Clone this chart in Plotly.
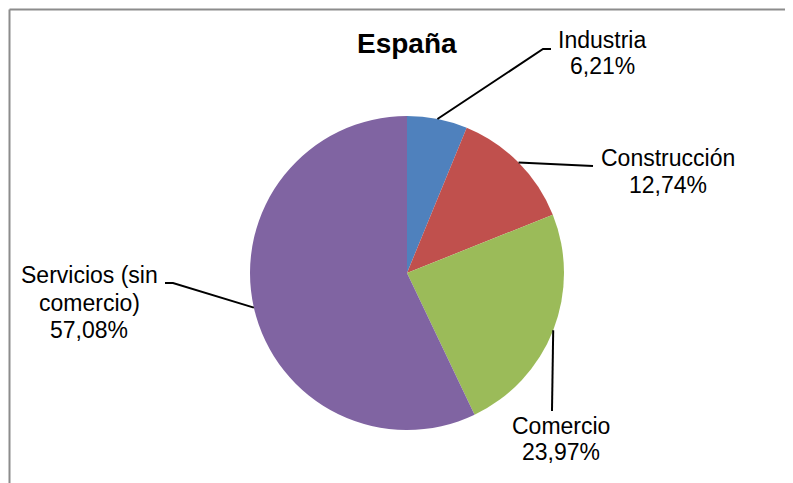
import math
import plotly.graph_objects as go

# ---- data ----
categories = ["Industria", "Construcción", "Comercio", "Servicios (sin<br>comercio)"]
values = [6.21, 12.74, 23.97, 57.08]
value_labels = ["6,21%", "12,74%", "23,97%", "57,08%"]
colors = ["#4F81BD", "#C0504D", "#9BBB59", "#8064A2"]
title_text = "España"

# ---- layout geometry (pixels in the 793x483 window) ----
OFF = 8                      # page body margin
W, H = 785, 475              # figure size
CX, CY, R = 407, 273, 157
# label line centers (x, [y per line]) and leader-line elbows
label_pos = [(602, [40, 66]), (668, [158, 185]), (561, [426, 452]), (89, [275, 303, 330])]
elbows = [[(543, 49), (551, 49)],
          [(593, 166)],
          [(552, 411)],
          [(173, 283), (165, 283)]]

def px(x):
    return (x - OFF) / W

def py(y):
    return 1 - (y - OFF) / H

FONT = "Liberation Sans, Arial, sans-serif"

fig = go.Figure()
fig.add_trace(go.Pie(
    labels=[c.replace("<br>", " ") for c in categories],
    values=values,
    sort=False,
    direction="clockwise",
    rotation=0,
    textinfo="none",
    marker=dict(colors=colors, line=dict(width=0)),
    domain=dict(x=[px(CX - R), px(CX + R)], y=[py(CY + R), py(CY - R)]),
    showlegend=False,
    hoverinfo="label+percent",
))

total = sum(values)
shapes = []
annotations = []
cum = 0.0
for i, v in enumerate(values):
    mid = (cum + v / 2) / total
    cum += v
    th = 2 * math.pi * mid
    ex = CX + R * math.sin(th)
    ey = CY - R * math.cos(th)
    pts = [(ex, ey)] + elbows[i]
    path = "M " + " L ".join(f"{px(x):.5f},{py(y):.5f}" for x, y in pts)
    shapes.append(dict(type="path", xref="paper", yref="paper", path=path,
                       line=dict(color="black", width=2)))
    lx, lys = label_pos[i]
    lines = categories[i].split("<br>") + [value_labels[i]]
    for t, ly in zip(lines, lys):
        annotations.append(dict(
            x=px(lx), y=py(ly), xref="paper", yref="paper", text=t,
            showarrow=False, xanchor="center", yanchor="middle",
            font=dict(family=FONT, size=23, color="black"),
        ))

annotations.append(dict(
    x=px(407), y=py(43), xref="paper", yref="paper", text=f"<b>{title_text}</b>",
    showarrow=False, xanchor="center", yanchor="middle",
    font=dict(family=FONT, size=28, color="black"),
))

# frame (left and top border)
FT = 9.5
shapes.append(dict(type="line", xref="paper", yref="paper",
                   x0=px(9.5), x1=px(9.5), y0=0, y1=py(FT),
                   line=dict(color="#8c8c8c", width=2)))
shapes.append(dict(type="line", xref="paper", yref="paper",
                   x0=px(9.5), x1=1, y0=py(FT), y1=py(FT),
                   line=dict(color="#8c8c8c", width=2)))

fig.update_layout(
    width=W, height=H,
    margin=dict(l=0, r=0, t=0, b=0),
    paper_bgcolor="white", plot_bgcolor="white",
    shapes=shapes, annotations=annotations,
)

fig.write_html("out.html")
